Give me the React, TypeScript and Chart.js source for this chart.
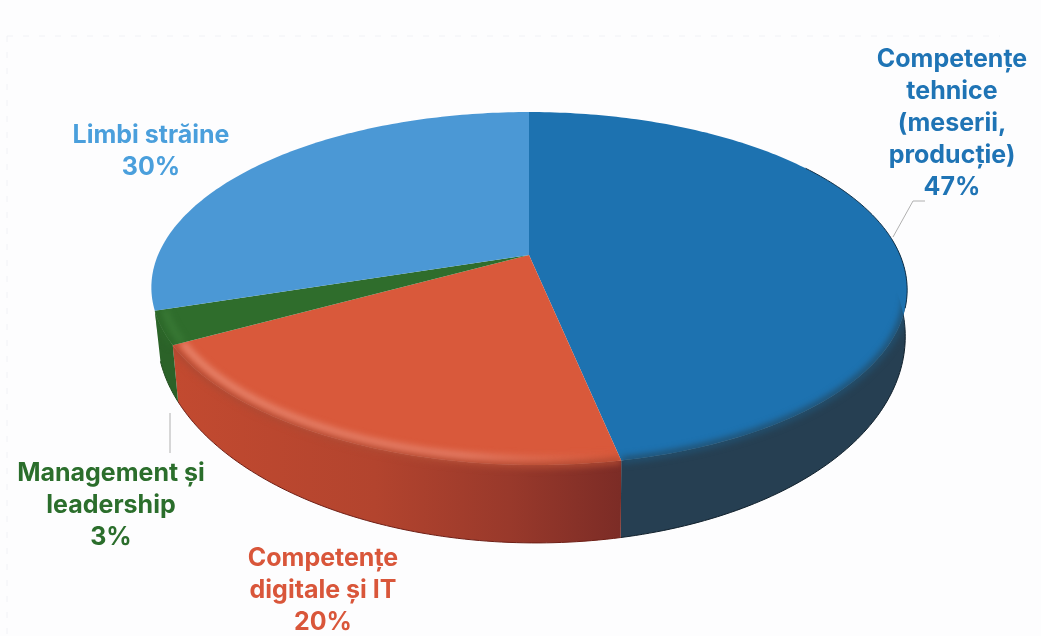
import React, { useEffect, useRef } from "react";
import { Chart, registerables } from "chart.js";

Chart.register(...registerables);

const categories = ["Competențe tehnice (meserii, producție)", "Competențe digitale și IT", "Management și leadership", "Limbi străine"];
const values = [47, 20, 3, 30];
const topColors = ["#1d72b0", "#d9593b", "#2f6d2c", "#4b98d5"];
const textColors = ["#1f74b5", "#d9563a", "#2b6e2c", "#4a9fdc"];
const labelLines = [
  ["Competențe", "tehnice", "(meserii,", "producție)", "47%"],
  ["Competențe", "digitale și IT", "20%"],
  ["Management și", "leadership", "3%"],
  ["Limbi străine", "30%"],
];
const labelX = [952, 323, 111, 151];
const labelY = [59, 558, 473, 135];
const labelStep = [32.2, 32, 32, 32];

// perspective projection of the unit disc
const CX = 529, CY = 255, K = 371, A = 170.1, C = -0.19;
const projR = (a: number, r: number): [number, number] => {
  const u = r * Math.cos(a), v = r * Math.sin(a), d = 1 + C * v;
  const skew = v > 0 ? 7 * v * v : 0;
  return [CX + (K * u) / d + skew, CY + (A * v) / d];
};
const proj = (a: number) => projR(a, 1);
const lower = (a: number): [number, number] => {
  const [x, y] = proj(a);
  const sx = x > CX ? 0.995 : 0.985;
  return [CX + (x - CX) * sx, 335 + (y - 288.5) * 1.178];
};
const steps = (a0: number, a1: number) => {
  const n = Math.max(4, Math.ceil(Math.abs(a1 - a0) * 60));
  return Array.from({ length: n + 1 }, (_, i) => a0 + ((a1 - a0) * i) / n);
};

const slicePath = (ctx: CanvasRenderingContext2D, a0: number, a1: number) => {
  ctx.beginPath();
  ctx.moveTo(CX, CY);
  steps(a0, a1).forEach((a) => ctx.lineTo(...proj(a)));
  ctx.closePath();
};
const wallPath = (ctx: CanvasRenderingContext2D, a0: number, a1: number) => {
  ctx.beginPath();
  steps(a0, a1).forEach((a, i) => (i ? ctx.lineTo(...proj(a)) : ctx.moveTo(...proj(a))));
  steps(a1, a0).forEach((a) => ctx.lineTo(...lower(a)));
  ctx.closePath();
};
const unionPath = (ctx: CanvasRenderingContext2D, a0: number, a1: number) => {
  ctx.beginPath();
  ctx.moveTo(CX, CY);
  ctx.lineTo(...proj(a0));
  steps(a0, a1).forEach((a) => ctx.lineTo(...lower(a)));
  ctx.lineTo(...proj(a1));
  ctx.closePath();
};
const hGrad = (ctx: CanvasRenderingContext2D, x0: number, x1: number, stops: [number, string][]) => {
  const g = ctx.createLinearGradient(x0, 0, x1, 0);
  stops.forEach(([p, c]) => g.addColorStop(p, c));
  return g;
};
const trace = (ctx: CanvasRenderingContext2D, a0: number, a1: number, f: (a: number) => [number, number]) => {
  ctx.beginPath();
  steps(a0, a1).forEach((a, k) => (k ? ctx.lineTo(...f(a)) : ctx.moveTo(...f(a))));
};

const pie3d = {
  id: "pie3d",
  beforeDatasetsDraw(chart: any) {
    const ctx: CanvasRenderingContext2D = chart.ctx;
    const arcs = chart.getDatasetMeta(0).data.map((el: any) => el.getProps(["startAngle", "endAngle"], true));
    const front = (i: number) => ({ a0: Math.max(arcs[i].startAngle, -0.1), a1: arcs[i].endAngle });
    const wallFills = [
      "#263f52",
      hGrad(ctx, 175, 620, [[0, "#c24a30"], [0.45, "#b3442e"], [0.75, "#99392b"], [1, "#7c2c26"]]),
      "#2b6228",
    ];
    const edges = ["#10202c", "#6e1f16", "#1f4a1c"];
    const blends = ["#22506f", "#b04a33", "#2d682a"];

    // outer walls (front slices only)
    [0, 1, 2].forEach((i) => {
      const { a0, a1 } = front(i);
      wallPath(ctx, a0, a1);
      ctx.fillStyle = wallFills[i];
      ctx.fill();
      trace(ctx, a0, a1, lower);
      ctx.strokeStyle = edges[i];
      ctx.lineWidth = 1;
      ctx.stroke();
    });

    // top faces
    arcs.forEach((arc: any, i: number) => {
      slicePath(ctx, arc.startAngle, arc.endAngle);
      ctx.fillStyle = topColors[i];
      ctx.fill();
    });

    // soft rim transitions
    [0, 1, 2].forEach((i) => {
      const { a0, a1 } = front(i);
      const rimStart = i === 0 ? Math.max(a0, 0.12) : a0;
      ctx.save();
      unionPath(ctx, a0, a1);
      ctx.clip();
      (ctx as any).filter = "blur(3px)";
      trace(ctx, rimStart, a1, proj);
      ctx.strokeStyle = blends[i];
      ctx.lineWidth = 7;
      ctx.stroke();
      if (i === 1 || i === 2) {
        (ctx as any).filter = "blur(3px)";
        trace(ctx, a0, a1, (a) => projR(a, 0.975));
        ctx.strokeStyle =
          i === 1
            ? hGrad(ctx, 175, 620, [[0, "#e98a72"], [0.65, "#e5806a"], [1, "rgba(226,122,96,0)"]])
            : "#3a7a36";
        ctx.lineWidth = 6;
        ctx.stroke();
      }
      ctx.restore();
    });

    // dark right edge of the blue slice
    trace(ctx, -0.6, 0.3, proj);
    ctx.strokeStyle = "#12324a";
    ctx.lineWidth = 1;
    ctx.stroke();
    return false;
  },
  afterDraw(chart: any) {
    const ctx: CanvasRenderingContext2D = chart.ctx;
    ctx.save();
    // faint scanned frame
    ctx.strokeStyle = "#f1f2f6";
    ctx.setLineDash([6, 10]);
    ctx.beginPath();
    ctx.moveTo(7, 36);
    ctx.lineTo(1000, 36);
    ctx.moveTo(7, 36);
    ctx.lineTo(7, 636);
    ctx.stroke();
    ctx.setLineDash([]);

    ctx.strokeStyle = "#b0b0b0";
    ctx.lineWidth = 1;
    ctx.beginPath();
    ctx.moveTo(893, 237);
    ctx.lineTo(913, 201);
    ctx.lineTo(925, 201);
    ctx.moveTo(170, 413);
    ctx.lineTo(170, 453);
    ctx.stroke();

    ctx.textAlign = "center";
    ctx.textBaseline = "middle";
    ctx.font = '700 25px "Inter"';
    (ctx as any).filter = "blur(0.4px)";
    labelLines.forEach((lines, i) => {
      ctx.fillStyle = textColors[i];
      lines.forEach((t, k) => ctx.fillText(t, labelX[i], labelY[i] + k * labelStep[i]));
    });
    ctx.restore();
  },
};

export default function App() {
  const ref = useRef<HTMLCanvasElement>(null);
  useEffect(() => {
    const chart = new Chart(ref.current!, {
      type: "pie",
      data: {
        labels: categories,
        datasets: [{ data: values, backgroundColor: topColors, borderWidth: 0 }],
      },
      options: {
        animation: false,
        responsive: false,
        plugins: { legend: { display: false }, tooltip: { enabled: false } },
      },
      plugins: [pie3d],
    });
    return () => chart.destroy();
  }, []);
  return (
    <canvas
      ref={ref}
      width={1041}
      height={636}
      style={{ position: "absolute", left: 0, top: 0, display: "block", background: "#fdfdfe" }}
    />
  );
}
